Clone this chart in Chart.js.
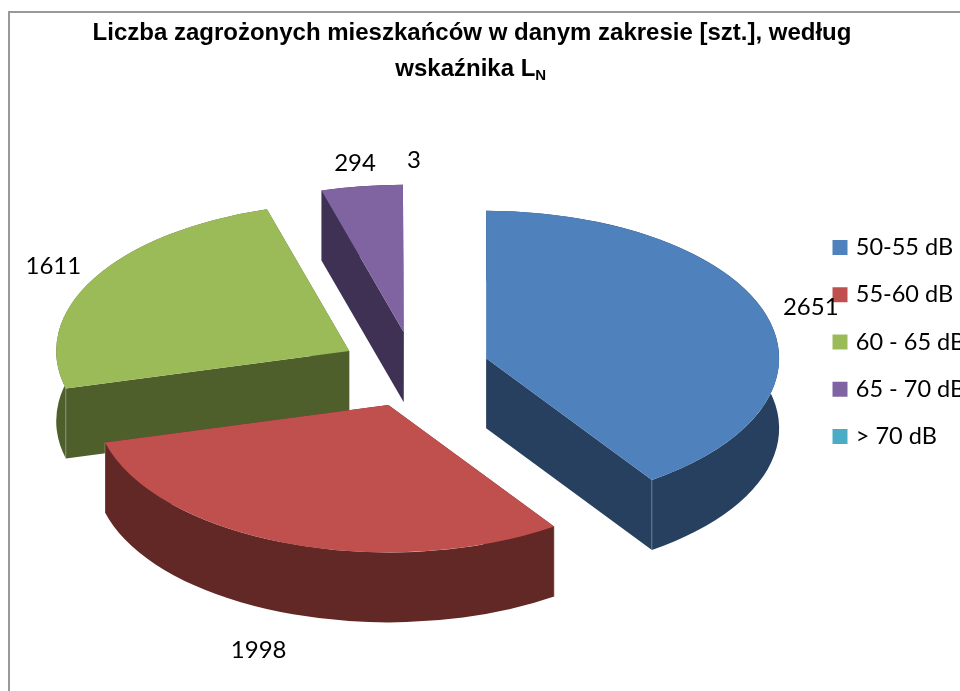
<!DOCTYPE html>
<html lang="pl">
<head>
<meta charset="utf-8">
<title>Liczba zagrożonych mieszkańców</title>
<script src="https://cdn.jsdelivr.net/npm/chart.js@4/dist/chart.umd.min.js"></script>
<style>
    html, body { margin: 0; padding: 0; background: #fff; overflow: hidden; }
    canvas { display: block; }
</style>
</head>
<body>
<canvas id="pieChart" width="960" height="691"></canvas>
<script>
// Chart data
const categories = ['50-55 dB', '55-60 dB', '60 - 65 dB', '65 - 70 dB', '> 70 dB'];
const residents = [2651, 1998, 1611, 294, 3];
const titleLines = ['Liczba zagrożonych mieszkańców w danym zakresie [szt.], według', 'wskaźnika L\u00a0\u00a0'];
const titleSubscript = 'N';

// Colours
const topColors = ['#4f81bd', '#c0504d', '#9bbb59', '#8064a2', '#4bacc6'];
const sideColors = ['#27405f', '#622826', '#4f5f2c', '#3f3153', '#245a68'];

// Tilted view of the pie
const view = { centerX: 414.5, centerY: 369.5, radiusX: 293, radiusY: 147.5, depth: 70, explode: 75 };

const labelFont = '24px Lato';

function midAngle(arc) {
    return (arc.startAngle + arc.endAngle) / 2;
}

// Centre of a pulled out slice in page pixels
function sliceApex(arc) {
    return {
        x: view.centerX + Math.cos(midAngle(arc)) * view.explode,
        y: view.centerY + Math.sin(midAngle(arc)) * view.explode * view.radiusY / view.radiusX
    };
}

// A slice under one pixel wide does not show up in the picture
function isVisible(arc) {
    return (arc.endAngle - arc.startAngle) * view.radiusX >= 1;
}

function rimPoint(apex, angle) {
    return {
        x: apex.x + Math.cos(angle) * view.radiusX,
        y: apex.y + Math.sin(angle) * view.radiusY
    };
}

function drawWalls(ctx, arc, color) {
    const apex = sliceApex(arc);
    const d = view.depth;
    ctx.fillStyle = color;

    // Round outer wall
    ctx.beginPath();
    ctx.ellipse(apex.x, apex.y, view.radiusX, view.radiusY, 0, arc.startAngle, arc.endAngle);
    ctx.ellipse(apex.x, apex.y + d, view.radiusX, view.radiusY, 0, arc.endAngle, arc.startAngle, true);
    ctx.closePath();
    ctx.fill();

    // Two flat walls and the light seam at their outer end
    [arc.startAngle, arc.endAngle].forEach(angle => {
        const end = rimPoint(apex, angle);
        ctx.beginPath();
        ctx.moveTo(apex.x, apex.y);
        ctx.lineTo(end.x, end.y);
        ctx.lineTo(end.x, end.y + d);
        ctx.lineTo(apex.x, apex.y + d);
        ctx.closePath();
        ctx.fill();

        ctx.strokeStyle = 'rgba(255,255,255,0.25)';
        ctx.lineWidth = 1;
        ctx.beginPath();
        ctx.moveTo(end.x, end.y);
        ctx.lineTo(end.x, end.y + d);
        ctx.stroke();
    });
}

const tiltPlugin = {
    id: 'tilt',
    afterLayout(chart) {
        // Legend sits at a fixed spot and its text runs off the right edge
        const legend = chart.legend;
        legend.left = 836 - legend.options.labels.padding;
        legend.right = chart.width;
        legend.top -= 11;
        legend.bottom -= 11;
    },
    beforeDraw(chart) {
        // Outer frame, it runs off the right and bottom of the picture
        const ctx = chart.ctx;
        ctx.save();
        ctx.strokeStyle = '#999999';
        ctx.lineWidth = 2;
        ctx.strokeRect(9, 12, 1000, 800);
        ctx.restore();
    },
    beforeDatasetDraw(chart) {
        const ctx = chart.ctx;
        const arcs = chart.getDatasetMeta(0).data;

        // Side walls first, back slices before front slices
        const order = arcs.map((arc, i) => i).sort((a, b) => sliceApex(arcs[a]).y - sliceApex(arcs[b]).y);
        order.forEach(i => {
            if (isVisible(arcs[i])) drawWalls(ctx, arcs[i], sideColors[i]);
        });

        // Top faces are the Chart.js arcs, squashed and moved to their place
        arcs.forEach(arc => {
            if (!isVisible(arc)) return;
            const apex = sliceApex(arc);
            ctx.save();
            ctx.translate(apex.x, apex.y);
            ctx.scale(view.radiusX / arc.outerRadius, view.radiusY / arc.outerRadius);
            ctx.translate(-arc.x, -arc.y);
            arc.draw(ctx);
            ctx.restore();
        });
        return false;
    },
    afterDatasetsDraw(chart) {
        const ctx = chart.ctx;
        const arcs = chart.getDatasetMeta(0).data;
        ctx.save();
        ctx.font = labelFont;
        ctx.fillStyle = '#000';
        ctx.textAlign = 'center';
        ctx.textBaseline = 'middle';
        arcs.forEach((arc, i) => {
            const apex = sliceApex(arc);
            const front = Math.sin(midAngle(arc)) > 0;
            const reach = front ? 1.27 : 1.16;
            const x = apex.x + Math.cos(midAngle(arc)) * view.radiusX * reach;
            const y = apex.y + Math.sin(midAngle(arc)) * view.radiusY * reach + (front ? view.depth : 0);
            ctx.fillText(String(residents[i]), x, y);
        });
        ctx.restore();
    },
    afterDraw(chart) {
        // Subscript after the L of the second title line
        const ctx = chart.ctx;
        const box = chart.titleBlock;
        const font = box.options.font;
        ctx.save();
        ctx.font = 'bold ' + font.size + 'px ' + font.family;
        const lineWidth = ctx.measureText(titleLines[1]).width;
        const before = ctx.measureText(titleLines[1].replace(/\u00a0/g, '')).width;
        const startX = (box.left + box.right) / 2 - lineWidth / 2;
        ctx.font = 'bold 15px ' + font.family;
        ctx.fillStyle = '#000';
        ctx.textBaseline = 'alphabetic';
        ctx.fillText(titleSubscript, startX + before, 80);
        ctx.restore();
    }
};

new Chart(document.getElementById('pieChart'), {
    type: 'pie',
    data: {
        labels: categories,
        datasets: [{
            data: residents,
            backgroundColor: topColors,
            borderWidth: 0
        }]
    },
    options: {
        responsive: false,
        animation: false,
        events: [],
        layout: { padding: { left: 8, right: 24, top: 15 } },
        plugins: {
            title: {
                display: true,
                text: titleLines,
                color: '#000',
                font: { family: 'Liberation Sans', size: 24, weight: 'bold', lineHeight: 1.52 },
                padding: { top: 0, bottom: 10 }
            },
            legend: {
                position: 'right',
                maxWidth: 122,
                labels: {
                    color: '#000',
                    font: { family: 'Lato', size: 23.5 },
                    boxWidth: 8,
                    boxHeight: 8,
                    padding: 23.8,
                    generateLabels: () => categories.map((name, i) => ({
                        text: name,
                        fillStyle: topColors[i],
                        strokeStyle: topColors[i],
                        lineWidth: 7,
                        hidden: false,
                        index: i
                    }))
                }
            },
            tooltip: { enabled: false }
        }
    },
    plugins: [tiltPlugin]
});
</script>
</body>
</html>
